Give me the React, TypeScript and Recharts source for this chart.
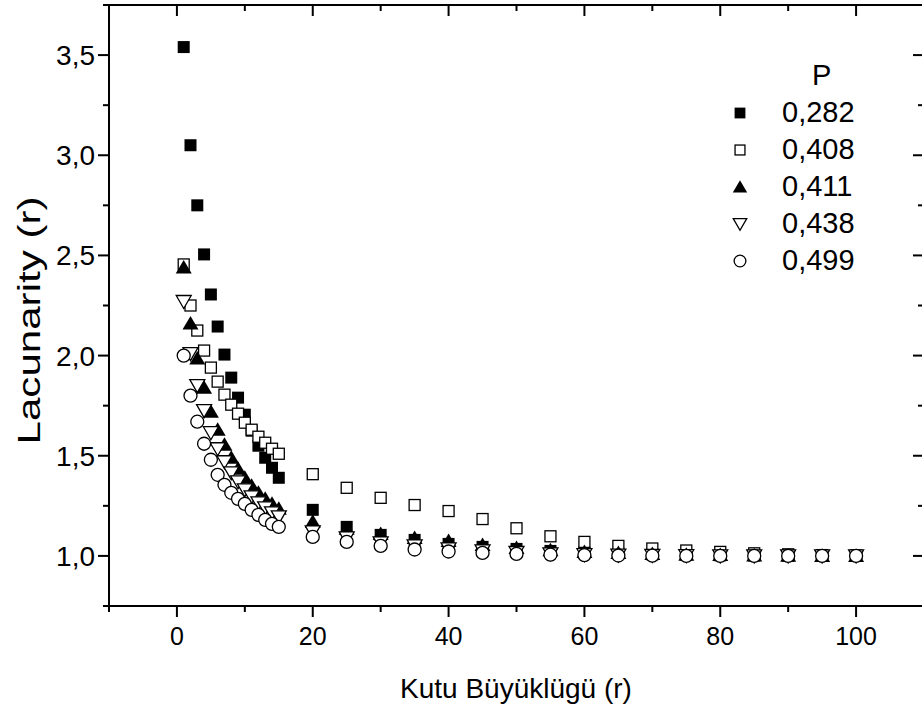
import React from 'react';
import { ScatterChart, Scatter, XAxis, YAxis, Legend, ReferenceLine } from 'recharts';

// Box sizes (r)
const boxSizes = [1, 2, 3, 4, 5, 6, 7, 8, 9, 10, 11, 12, 13, 14, 15, 20, 25, 30, 35, 40, 45, 50, 55, 60, 65, 70, 75, 80, 85, 90, 95, 100];

// Legend labels (P)
const pLabels = ['0,282', '0,408', '0,411', '0,438', '0,499'];

// Lacunarity values per series
const lac0282 = [3.54, 3.05, 2.75, 2.505, 2.305, 2.145, 2.005, 1.89, 1.79, 1.705, 1.625, 1.55, 1.49, 1.44, 1.39,
  1.23, 1.145, 1.105, 1.08, 1.06, 1.045, 1.035, 1.025, 1.018, 1.012, 1.008, 1.005, 1.003, 1.002, 1.001, 1.0, 1.0];
const lac0408 = [2.455, 2.25, 2.125, 2.025, 1.94, 1.87, 1.805, 1.755, 1.71, 1.665, 1.63, 1.595, 1.565, 1.535, 1.51,
  1.408, 1.34, 1.29, 1.254, 1.224, 1.184, 1.138, 1.098, 1.07, 1.05, 1.037, 1.027, 1.02, 1.013, 1.008, 1.004, 1.002];
const lac0411 = [2.44, 2.16, 1.985, 1.84, 1.72, 1.63, 1.555, 1.49, 1.435, 1.39, 1.35, 1.315, 1.285, 1.26, 1.235,
  1.17, 1.135, 1.11, 1.09, 1.075, 1.055, 1.04, 1.028, 1.02, 1.014, 1.01, 1.006, 1.004, 1.002, 1.001, 1.0, 1.0];
const lac0438 = [2.27, 2.01, 1.85, 1.725, 1.615, 1.535, 1.47, 1.415, 1.37, 1.33, 1.295, 1.265, 1.24, 1.215, 1.195,
  1.12, 1.09, 1.065, 1.05, 1.035, 1.025, 1.017, 1.01, 1.006, 1.004, 1.002, 1.001, 1.0, 1.0, 1.0, 1.0, 1.0];
const lac0499 = [2.0, 1.8, 1.67, 1.56, 1.48, 1.405, 1.355, 1.315, 1.285, 1.26, 1.23, 1.205, 1.18, 1.16, 1.145,
  1.095, 1.07, 1.05, 1.032, 1.022, 1.015, 1.01, 1.006, 1.004, 1.002, 1.001, 1.0, 1.0, 1.0, 1.0, 1.0, 1.0];

// Tick values
const xMajor = [0, 20, 40, 60, 80, 100];
const xMinor = [-10, 10, 30, 50, 70, 90, 110];
const yMajor = [1, 1.5, 2, 2.5, 3, 3.5];
const yMinor = [0.75, 1.25, 1.75, 2.25, 2.75, 3.25, 3.75];

const xDomain: [number, number] = [-10, 110];
const yDomain: [number, number] = [0.75, 3.75];

const FONT = '"Liberation Sans", Arial, sans-serif';
const LINE = { stroke: '#000', strokeWidth: 2 };
const MAJOR_LEN = 11;
const MINOR_LEN = 6;

const toRows = (vals: number[]) => boxSizes.map((r, i) => ({ r, v: vals[i] }));
const seriesValues = [lac0282, lac0408, lac0411, lac0438, lac0499];

type ShapeKind = 'fsq' | 'osq' | 'ftri' | 'otri' | 'ocirc';
const kinds: ShapeKind[] = ['fsq', 'osq', 'ftri', 'otri', 'ocirc'];

const drawShape = (kind: ShapeKind, cx: number, cy: number, s = 1) => {
  const sw = 1.3;
  switch (kind) {
    case 'fsq':
      return <rect x={cx - 6 * s} y={cy - 6 * s} width={12 * s} height={12 * s} fill="#000" />;
    case 'osq':
      return <rect x={cx - 5.5 * s} y={cy - 5.5 * s} width={11 * s} height={11 * s} fill="#fff" stroke="#000" strokeWidth={sw} />;
    case 'ftri':
      return <polygon points={`${cx},${cy - 7.5 * s} ${cx + 8 * s},${cy + 6 * s} ${cx - 8 * s},${cy + 6 * s}`} fill="#000" />;
    case 'otri':
      return <polygon points={`${cx - 7.5 * s},${cy - 6 * s} ${cx + 7.5 * s},${cy - 6 * s} ${cx},${cy + 7 * s}`} fill="#fff" stroke="#000" strokeWidth={sw} />;
    case 'ocirc':
    default:
      return <circle cx={cx} cy={cy} r={6.5 * s} fill="#fff" stroke="#000" strokeWidth={sw} />;
  }
};

const makeShape = (kind: ShapeKind) => (props: any) => {
  const { cx, cy } = props;
  if (cx == null || cy == null) return <g />;
  return <g>{drawShape(kind, cx, cy)}</g>;
};

// Tick-mark shapes placed at axis-edge points through the chart scales
const vTickShape = (len: number) => (props: any) => {
  const { cx, cy } = props;
  if (cx == null || cy == null) return <g />;
  return <path d={`M${cx},${cy}v${len}`} stroke="#000" strokeWidth={2} fill="none" />;
};
const hTickShape = (len: number) => (props: any) => {
  const { cx, cy } = props;
  if (cx == null || cy == null) return <g />;
  return <path d={`M${cx},${cy}h${-len}`} stroke="#000" strokeWidth={2} fill="none" />;
};

const tickSets = [
  { key: 'bmaj', data: xMajor.map((r) => ({ r, v: yDomain[0] })), shape: vTickShape(MAJOR_LEN) },
  { key: 'bmin', data: xMinor.map((r) => ({ r, v: yDomain[0] })), shape: vTickShape(MINOR_LEN) },
  { key: 'tmaj', data: xMajor.map((r) => ({ r, v: yDomain[1] })), shape: vTickShape(MAJOR_LEN) },
  { key: 'tmin', data: xMinor.map((r) => ({ r, v: yDomain[1] })), shape: vTickShape(MINOR_LEN) },
  { key: 'lmaj', data: yMajor.map((v) => ({ r: xDomain[0], v })), shape: hTickShape(MAJOR_LEN) },
  { key: 'lmin', data: yMinor.map((v) => ({ r: xDomain[0], v })), shape: hTickShape(MINOR_LEN) },
  { key: 'rmaj', data: yMajor.map((v) => ({ r: xDomain[1], v })), shape: hTickShape(MAJOR_LEN) },
  { key: 'rmin', data: yMinor.map((v) => ({ r: xDomain[1], v })), shape: hTickShape(MINOR_LEN) },
];

const fmtY = (v: number) => v.toFixed(1).replace('.', ',');

const leftLabel = (props: any) => (
  <text x={Number(props.x) - 14} y={Number(props.y)} dy="0.36em" textAnchor="end" fontFamily={FONT} fontSize={28} fill="#000">
    {fmtY(props.payload.value)}
  </text>
);
const bottomLabel = (props: any) => (
  <text x={Number(props.x)} y={Number(props.y) + 30} dy="0.36em" textAnchor="middle" fontFamily={FONT} fontSize={25} fill="#000">
    {String(props.payload.value)}
  </text>
);

const renderLegend = (props: any) => {
  const payload = (props.payload || []).filter((e: any) => pLabels.includes(e.value));
  return (
    <div style={{ fontFamily: FONT, fontSize: 29, color: '#000' }}>
      <div style={{ height: 37, lineHeight: '37px', paddingLeft: 84 }}>P</div>
      {payload.map((entry: any) => {
        const i = pLabels.indexOf(entry.value);
        return (
          <div key={entry.value} style={{ height: 37, lineHeight: '37px', display: 'flex', alignItems: 'center' }}>
            <svg width={24} height={24} style={{ display: 'block' }}>
              {drawShape(kinds[i], 12, 12, 0.9)}
            </svg>
            <span style={{ marginLeft: 30 }}>{entry.value}</span>
          </div>
        );
      })}
    </div>
  );
};

export default function App() {
  return (
    <div style={{ position: 'absolute', left: 0, top: 0, width: 922, height: 709, overflow: 'hidden', background: '#fff' }}>
      <ScatterChart width={940} height={709} margin={{ top: 5, right: 16, left: 0, bottom: 0 }}>
        <XAxis
          xAxisId="b"
          type="number"
          dataKey="r"
          domain={xDomain}
          ticks={xMajor}
          interval={0}
          height={103}
          tickSize={0}
          tickMargin={0}
          tickLine={false}
          tick={bottomLabel}
          axisLine={LINE}
          label={{
            content: () => (
              <text x={516} y={688} dy="0.36em" textAnchor="middle" fontFamily={FONT} fontSize={28} fill="#000">
                Kutu Büyüklügü (r)
              </text>
            ),
          }}
        />
        <YAxis
          yAxisId="l"
          type="number"
          dataKey="v"
          domain={yDomain}
          ticks={yMajor}
          interval={0}
          width={109}
          tickSize={0}
          tickMargin={0}
          tickLine={false}
          tick={leftLabel}
          axisLine={LINE}
          label={{
            content: () => (
              <text x={28} y={320.5} dy="0.36em" textAnchor="middle" fontFamily={FONT} fontSize={32} fill="#000"
                textLength={248} lengthAdjust="spacingAndGlyphs" transform="rotate(-90 28 320.5)">
                Lacunarity (r)
              </text>
            ),
          }}
        />
        {/* top and right frame lines */}
        <ReferenceLine xAxisId="b" yAxisId="l" y={yDomain[1]} stroke="#000" strokeWidth={2} ifOverflow="visible" />
        <ReferenceLine xAxisId="b" yAxisId="l" x={xDomain[1]} stroke="#000" strokeWidth={2} ifOverflow="visible" />
        {/* tick marks */}
        {tickSets.map((t) => (
          <Scatter
            key={t.key}
            name={t.key}
            data={t.data}
            xAxisId="b"
            yAxisId="l"
            legendType="none"
            shape={t.shape}
            isAnimationActive={false}
          />
        ))}
        {seriesValues.map((vals, i) => (
          <Scatter
            key={pLabels[i]}
            name={pLabels[i]}
            data={toRows(vals)}
            xAxisId="b"
            yAxisId="l"
            fill="#000"
            shape={makeShape(kinds[i])}
            isAnimationActive={false}
          />
        ))}
        <Legend
          layout="vertical"
          align="center"
          verticalAlign="middle"
          wrapperStyle={{ position: 'absolute', left: 728, top: 57, width: 170 }}
          content={renderLegend}
        />
      </ScatterChart>
    </div>
  );
}
